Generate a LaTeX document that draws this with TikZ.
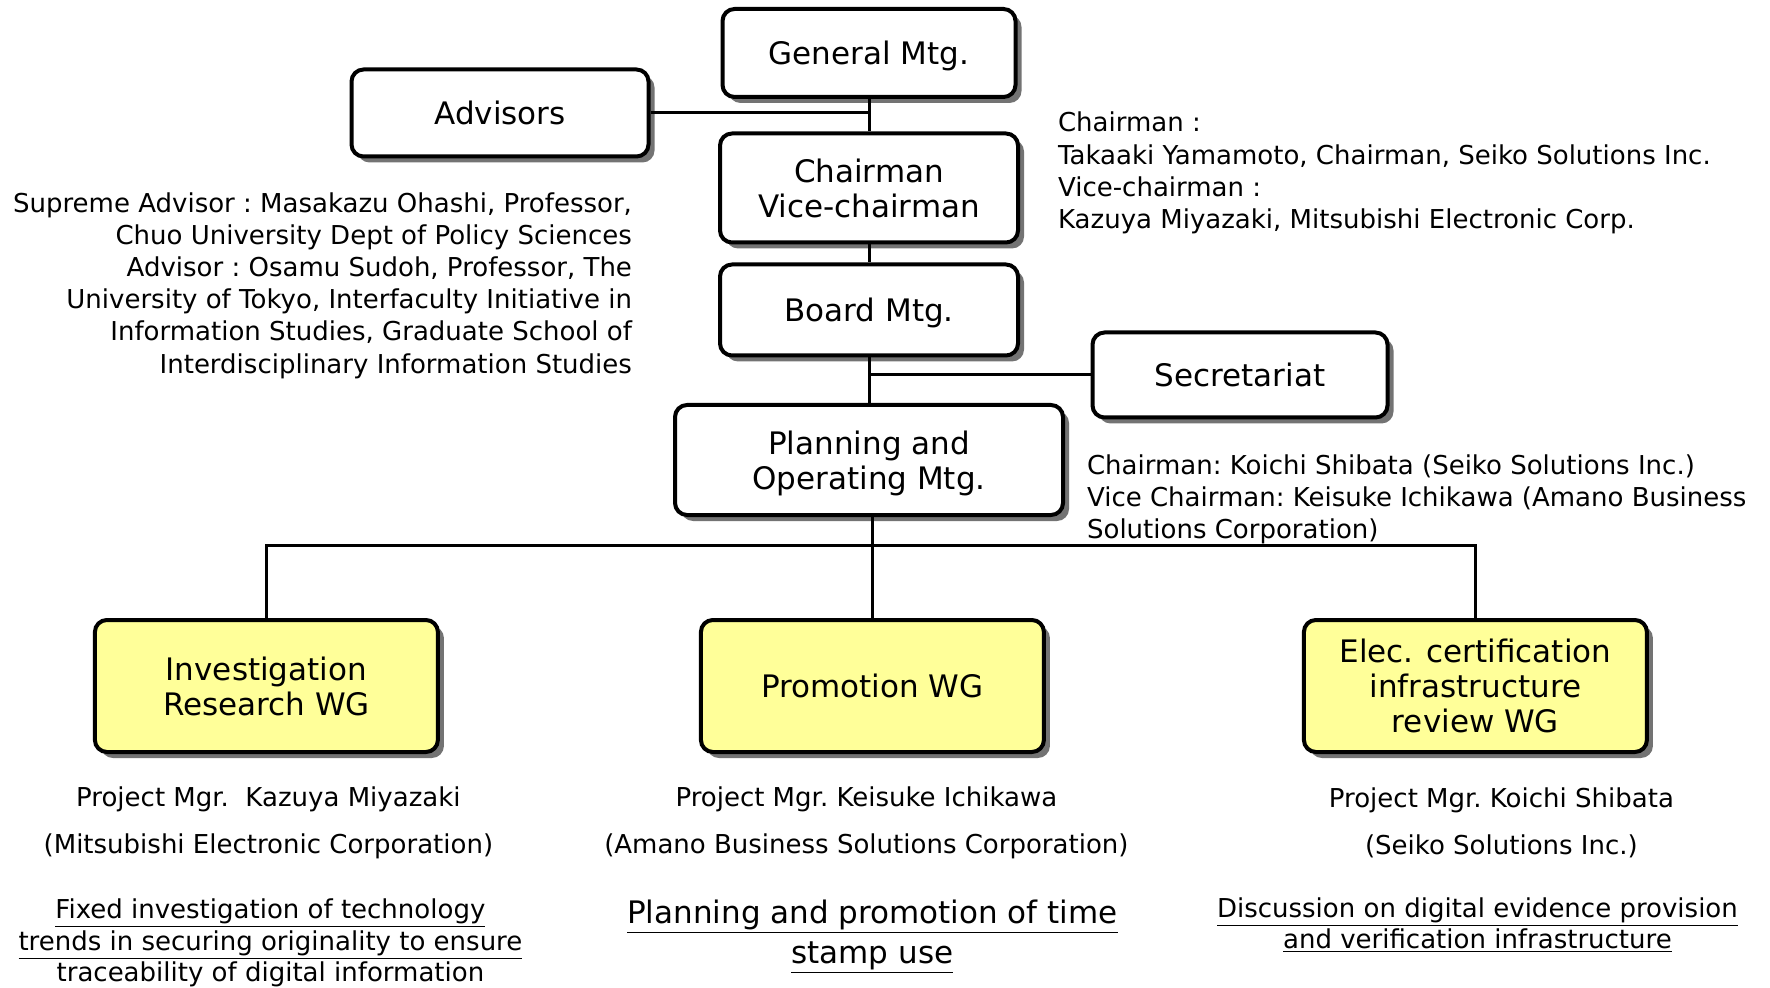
\documentclass[tikz,border=0pt]{standalone}
\usepackage{fontspec}
\setmainfont{DejaVu Sans}
\usetikzlibrary{positioning,shadows}

\definecolor{wgyellow}{RGB}{255,255,153}
\tikzset{
  mtg/.style={draw,line width=2pt,rounded corners=6pt,fill=white,text depth=0pt,
    drop shadow={shadow xshift=3pt,shadow yshift=-3pt,fill=black!55,opacity=1},
    align=center,font=\fontsize{15.5}{17.5}\selectfont},
  wg/.style={mtg,fill=wgyellow,minimum width=171.5pt,minimum height=66pt},
  info/.style={font=\fontsize{13}{16.1}\selectfont\frenchspacing},
  mgr/.style={align=center,font=\fontsize{13}{23.5}\selectfont\frenchspacing},
  task/.style={align=center,font=\fontsize{13}{15.75}\selectfont},
  link/.style={line width=1.5pt},
}

\begin{document}
\begin{tikzpicture}[on grid,node distance=60pt]
   \useasboundingbox (0,0) rectangle (885pt,-494pt);
   % committee column
   \node[mtg,minimum width=146.5pt,minimum height=44pt] (gen) at (434.5pt,-26.5pt) {General Mtg.};
   \node[mtg,minimum width=149pt,minimum height=54.5pt] (chair) [below=67.5pt of gen] {Chairman\\Vice-chairman};
   \node[mtg,minimum width=149pt,minimum height=45.5pt] (board) [below=61pt of chair] {Board Mtg.};
   \node[mtg,minimum width=194pt,minimum height=55pt] (plan) [below=75pt of board] {Planning and\\Operating Mtg.};
   \node[mtg,minimum width=148.5pt,minimum height=43.5pt] (adv) [below left=30pt and 184.5pt of gen] {Advisors};
   \node[mtg,minimum width=147.5pt,minimum height=42.5pt] (sec) [below right=32.5pt and 185.5pt of board] {Secretariat};
   % working groups
   \node[wg] (prom) [below right=113pt and 1.7pt of plan] {Promotion WG};
   \node[wg] (inv) [left=303pt of prom] {Investigation\\Research WG};
   \node[wg] (elec) [right=301.5pt of prom] {Elec. certification\\infrastructure\\review WG};
   \coordinate[below=14pt of plan.south -| prom] (bus);

   \draw[link] (gen) -- (chair);
   \draw[link] (chair) -- (board);
   \draw[link] (board) -- (plan);
   \draw[link] (adv) -- (adv -| gen);
   \draw[link] (sec) -- (sec -| board);
   \draw[link] (prom) -- (prom |- plan.south);
   \draw[link] (inv) |- (bus) -| (elec);

   % notes
   \node[info,align=right,anchor=east] (advinfo) at (319.5pt,-142.75pt) {Supreme Advisor : Masakazu Ohashi, Professor,\\Chuo University Dept of Policy Sciences\\Advisor : Osamu Sudoh, Professor, The\\University of Tokyo, Interfaculty Initiative in\\Information Studies, Graduate School of\\Interdisciplinary Information Studies};
   \node[info,align=left,anchor=west] (chairinfo) at (525.5pt,-86.5pt) {Chairman :\\Takaaki Yamamoto, Chairman, Seiko Solutions Inc.\\Vice-chairman :\\Kazuya Miyazaki, Mitsubishi Electronic Corp.};
   \node[info,align=left,anchor=west] (planinfo) at (540pt,-249.7pt) {Chairman: Koichi Shibata (Seiko Solutions Inc.)\\Vice Chairman: Keisuke Ichikawa (Amano Business\\Solutions Corporation)};

   \node[mgr] (invmgr) [below right=68.5pt and 1pt of inv] {Project Mgr.~ Kazuya Miyazaki\\(Mitsubishi Electronic Corporation)};
   \node[mgr] (prommgr) [below left=68.5pt and 3pt of prom] {Project Mgr. Keisuke Ichikawa\\(Amano Business Solutions Corporation)};
   \node[mgr] (elecmgr) [below right=68.5pt and 13pt of elec] {Project Mgr. Koichi Shibata\\(Seiko Solutions Inc.)};

   \node[task] (invtask) [below right=129.5pt and 2pt of inv] {\underline{Fixed investigation of technology}\\\underline{trends in securing originality to ensure}\\\underline{traceability of digital information}};
   \node[task,font=\fontsize{15.5}{20}\selectfont] (promtask) [below=125.3pt of prom] {\underline{Planning and promotion of time}\\\underline{stamp use}};
   \node[task] (electask) [below right=119.6pt and 1pt of elec] {\underline{Discussion on digital evidence provision}\\\underline{and verification infrastructure}};
\end{tikzpicture}
\end{document}
